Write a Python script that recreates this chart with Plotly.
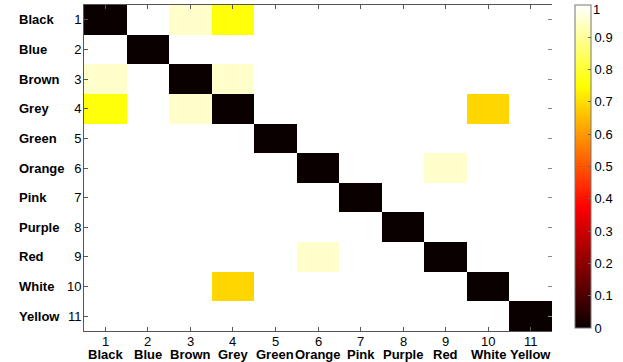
import plotly.graph_objects as go

# Colour names and their indices
names = ["Black", "Blue", "Brown", "Grey", "Green", "Orange",
         "Pink", "Purple", "Red", "White", "Yellow"]
idx = list(range(1, 12))

# Pairwise distance matrix (1 = dissimilar, 0 = identical)
row_black = [0, 1, 0.95, 0.76, 1, 1, 1, 1, 1, 1, 1]
row_blue = [1, 0, 1, 1, 1, 1, 1, 1, 1, 1, 1]
row_brown = [0.95, 1, 0, 0.95, 1, 1, 1, 1, 1, 1, 1]
row_grey = [0.76, 1, 0.95, 0, 1, 1, 1, 1, 1, 0.69, 1]
row_green = [1, 1, 1, 1, 0, 1, 1, 1, 1, 1, 1]
row_orange = [1, 1, 1, 1, 1, 0, 1, 1, 0.95, 1, 1]
row_pink = [1, 1, 1, 1, 1, 1, 0, 1, 1, 1, 1]
row_purple = [1, 1, 1, 1, 1, 1, 1, 0, 1, 1, 1]
row_red = [1, 1, 1, 1, 1, 0.95, 1, 1, 0, 1, 1]
row_white = [1, 1, 1, 0.69, 1, 1, 1, 1, 1, 0, 1]
row_yellow = [1, 1, 1, 1, 1, 1, 1, 1, 1, 1, 0]

z = [row_black, row_blue, row_brown, row_grey, row_green, row_orange,
     row_pink, row_purple, row_red, row_white, row_yellow]

# colorbar ticks; the top label "1" is placed by hand (it sits at the edge)
cbar_ticks = [i / 10 for i in range(10)]

# MATLAB-like "hot" colormap
hot = [
    [0.0, "rgb(10,0,0)"],
    [0.375, "rgb(255,0,0)"],
    [0.75, "rgb(255,255,0)"],
    [1.0, "rgb(255,255,255)"],
]

FONT = "Liberation Sans, Arial, sans-serif"
FS = 13
PLOT_W = 468  # plot area width in px
PLOT_H = 326  # plot area height in px

fig = go.Figure(
    go.Heatmap(
        z=z,
        x=idx,
        y=idx,
        zmin=0,
        zmax=1,
        colorscale=hot,
        colorbar=dict(
            x=1.049,
            xanchor="left",
            y=1,
            yanchor="top",
            thickness=16,
            lenmode="pixels",
            len=323,
            tickvals=cbar_ticks,
            ticktext=[f"{t:g}" for t in cbar_ticks],
            ticks="inside",
            ticklen=3,
            tickcolor="#666",
            outlinecolor="#777",
            outlinewidth=1,
            tickfont=dict(family=FONT, size=FS, color="black"),
            xpad=0,
            ypad=0,
        ),
    )
)
# invisible trace so the right-hand tick axis gets drawn
fig.add_trace(go.Scatter(x=[None], y=[None], yaxis="y2", showlegend=False,
                         hoverinfo="skip"))

fig.update_xaxes(
    tickmode="array",
    tickvals=idx,
    showticklabels=False,
    ticks="inside",
    ticklen=4,
    tickcolor="#555",
    showline=True,
    linecolor="#555",
    linewidth=1,
    mirror="ticks",
    showgrid=False,
    zeroline=False,
    range=[0.5, 11.5],
)
fig.update_layout(
    yaxis=dict(
        tickmode="array",
        tickvals=idx,
        ticktext=[str(i) for i in idx],
        ticks="inside",
        ticklen=4,
        tickcolor="#555",
        ticklabelstandoff=-1,
        showline=True,
        linecolor="#555",
        linewidth=1,
        showgrid=False,
        zeroline=False,
        tickfont=dict(family=FONT, size=FS, color="black"),
        range=[11.5, 0.5],
    ),
    yaxis2=dict(
        overlaying="y",
        side="right",
        tickmode="array",
        tickvals=idx,
        showticklabels=False,
        ticks="inside",
        ticklen=4,
        tickcolor="#888",
        showline=False,
        showgrid=False,
        zeroline=False,
        range=[11.5, 0.5],
    ),
)

# y-axis names, left aligned
for i, n in zip(idx, names):
    fig.add_annotation(
        x=-67 / PLOT_W, xref="paper", xanchor="left",
        y=i, yref="y",
        text=f"<b>{n}</b>", showarrow=False,
        font=dict(family=FONT, size=FS, color="black"),
    )

# x-axis numbers and names
for i, n in zip(idx, names):
    fig.add_annotation(
        x=i, xref="x", y=-10 / PLOT_H, yref="paper", yanchor="middle",
        text=str(i), showarrow=False,
        font=dict(family=FONT, size=FS, color="black"),
    )
    fig.add_annotation(
        x=i, xref="x", y=-23 / PLOT_H, yref="paper", yanchor="middle",
        text=f"<b>{n}</b>", showarrow=False,
        font=dict(family=FONT, size=FS, color="black"),
    )

# top colorbar label
fig.add_annotation(
    x=(591 - 84) / PLOT_W, xref="paper", xanchor="left",
    y=(326 + 5) / PLOT_H, yref="paper", yanchor="top",
    text="1", showarrow=False,
    font=dict(family=FONT, size=FS, color="black"),
)

fig.update_layout(
    width=623,
    height=362,
    margin=dict(l=84, r=71, t=5, b=31),
    paper_bgcolor="white",
    plot_bgcolor="white",
)

# drop the default page margin so the figure sits at the window's corner
fig.write_html(
    "out.html",
    config={"displayModeBar": False},
    post_script="document.body.style.margin='0';",
)
